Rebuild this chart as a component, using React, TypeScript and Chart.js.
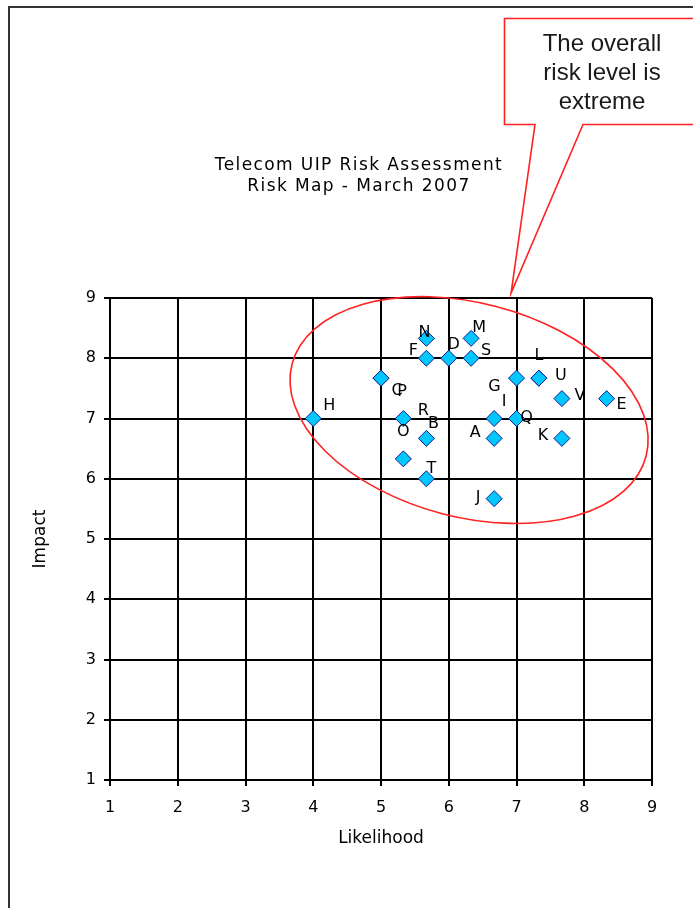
import React, { useEffect, useRef } from "react";
import { Chart, registerables } from "chart.js";

Chart.register(...registerables);

// ---- data ----
const riskIds = ["A", "B", "C", "D", "E", "F", "G", "H", "I", "J", "K", "L", "M", "N", "O", "P", "Q", "R", "S", "T", "U", "V"];
const likelihood = [6.67, 5.67, 5, 6, 8.33, 5.67, 7, 4, 6.67, 6.67, 7.67, 7.33, 6.33, 5.67, 5.33, 5, 7, 5.33, 6.33, 5.67, 7.33, 7.67];
const impact = [6.67, 6.67, 7.67, 8, 7.33, 8, 7.67, 7, 7, 5.67, 6.67, 7.67, 8.33, 8.33, 6.33, 7.67, 7, 7, 8, 6, 7.67, 7.33];
const axisMin = 1;
const axisMax = 9;
const titleLines = ["Telecom UIP Risk Assessment", "Risk Map - March 2007"];
const calloutLines = ["The overall", "risk level is", "extreme"];
const xAxisTitle = "Likelihood";
const yAxisTitle = "Impact";

// ---- styling (label placement offsets in px, per risk id) ----
const labelOffsets: [number, number][] = [
  [-19, -6], [7, -15], [16, 13], [5, -13], [15, 6], [-13, -7], [-22, 9], [16, -13],
  [10, -17], [-16, -1], [-19, -3], [0, -22], [8, -11], [-2, -6], [0, -27], [21, 14],
  [10, -1], [20, -8], [15, -7], [5, -10], [22, -2], [18, -3],
];

const overlayPlugin = {
  id: "overlay",
  beforeDraw(chart: any) {
    const ctx = chart.ctx;
    ctx.save();
    ctx.fillStyle = "#ffffff";
    ctx.fillRect(0, 0, chart.width, chart.height);
    // outer frame
    ctx.fillStyle = "#333333";
    ctx.fillRect(8, 6, 2, chart.height);
    ctx.fillRect(8, 6, chart.width, 2);
    // title
    ctx.fillStyle = "#000";
    ctx.font = "17px 'DejaVu Sans'";
    ctx.textAlign = "center";
    ctx.textBaseline = "middle";
    try { (ctx as any).letterSpacing = "1.4px"; } catch (e) {}
    ctx.fillText(titleLines[0], 359, 166);
    ctx.fillText(titleLines[1], 359, 187);
    ctx.restore();
  },
  beforeDatasetsDraw(chart: any) {
    const ctx = chart.ctx;
    const xs = chart.scales.x;
    const ys = chart.scales.y;
    const cx = xs.getPixelForValue(6.3);
    const cy = ys.getPixelForValue(7.14);
    const pxX = xs.getPixelForValue(2) - xs.getPixelForValue(1);
    const rx = 2.7 * pxX;
    const ry = 1.58 * pxX;
    ctx.save();
    ctx.strokeStyle = "#ff2020";
    ctx.lineWidth = 1.6;
    ctx.beginPath();
    ctx.ellipse(cx, cy, rx, ry, (14.6 * Math.PI) / 180, 0, Math.PI * 2);
    ctx.stroke();
    ctx.restore();
  },
  afterDatasetsDraw(chart: any) {
    const ctx = chart.ctx;
    const meta = chart.getDatasetMeta(0);
    ctx.save();
    ctx.fillStyle = "#000";
    ctx.font = "16px 'DejaVu Sans'";
    ctx.textAlign = "center";
    ctx.textBaseline = "middle";
    meta.data.forEach((pt: any, i: number) => {
      const [dx, dy] = labelOffsets[i];
      ctx.fillText(riskIds[i], pt.x + dx, pt.y + dy);
    });
    ctx.restore();
  },
  afterDraw(chart: any) {
    const ctx = chart.ctx;
    const xs = chart.scales.x;
    const ys = chart.scales.y;
    const tipX = xs.getPixelForValue(6.92);
    const tipY = ys.getPixelForValue(9.08);
    ctx.save();
    ctx.beginPath();
    ctx.moveTo(504.5, 18.5);
    ctx.lineTo(chart.width + 5, 18.5);
    ctx.lineTo(chart.width + 5, 124.5);
    ctx.lineTo(583, 124.5);
    ctx.lineTo(tipX, tipY);
    ctx.lineTo(535, 124.5);
    ctx.lineTo(504.5, 124.5);
    ctx.closePath();
    ctx.fillStyle = "#ffffff";
    ctx.fill();
    ctx.strokeStyle = "#ff2020";
    ctx.lineWidth = 1.6;
    ctx.stroke();
    ctx.fillStyle = "#1a1a1a";
    ctx.font = "24px 'Liberation Sans'";
    ctx.textAlign = "center";
    ctx.textBaseline = "middle";
    calloutLines.forEach((t, i) => ctx.fillText(t, 602, 44 + i * 29));
    ctx.restore();
  },
};

export default function App() {
  const ref = useRef<HTMLCanvasElement | null>(null);
  useEffect(() => {
    if (!ref.current) return;
    const tickFont = { family: "'DejaVu Sans'", size: 16 };
    const titleFont = { family: "'DejaVu Sans'", size: 17 };
    const chart = new Chart(ref.current, {
      type: "scatter",
      data: {
        datasets: [
          {
            label: "Risks",
            data: riskIds.map((_, i) => ({ x: likelihood[i], y: impact[i] })),
            pointStyle: "rectRot",
            pointRadius: 8,
            pointHoverRadius: 8,
            backgroundColor: "#00c8ff",
            borderColor: "#1a1a8c",
            borderWidth: 1,
          },
        ],
      },
      options: {
        animation: false,
        responsive: false,
        events: [],
        layout: { padding: { left: 20, right: 41, top: 298, bottom: 59 } },
        plugins: {
          legend: { display: false },
          tooltip: { enabled: false },
          title: { display: false },
        },
        scales: {
          x: {
            type: "linear",
            min: axisMin,
            max: axisMax,
            ticks: { stepSize: 1, color: "#000", font: tickFont, padding: 12 },
            grid: { color: "#000", lineWidth: 2, tickLength: 6, drawTicks: true },
            border: { color: "#000", width: 2 },
            title: { display: true, text: xAxisTitle, color: "#000", font: titleFont, padding: { top: 0, bottom: 0 } },
            afterFit: (s: any) => { s.height = 69; },
          },
          y: {
            type: "linear",
            min: axisMin,
            max: axisMax,
            ticks: { stepSize: 1, color: "#000", font: tickFont, padding: 8 },
            grid: { color: "#000", lineWidth: 2, tickLength: 6, drawTicks: true },
            border: { color: "#000", width: 2 },
            title: { display: true, text: yAxisTitle, color: "#000", font: titleFont, padding: { top: 10, bottom: 0 } },
            afterFit: (s: any) => { s.width = 90; },
          },
        },
      },
      plugins: [overlayPlugin],
    });
    return () => chart.destroy();
  }, []);
  return (
    <div style={{ position: "fixed", left: 0, top: 0, width: 693, height: 908, background: "#fff" }}>
      <canvas ref={ref} width={693} height={908} style={{ display: "block", width: 693, height: 908 }} />
    </div>
  );
}
